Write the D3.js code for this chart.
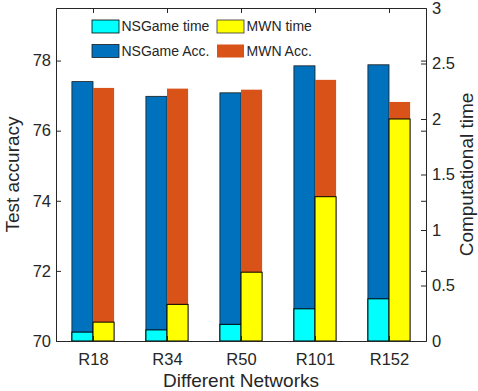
<!DOCTYPE html>
<html>
<head>
<meta charset="utf-8">
<script src="https://cdn.jsdelivr.net/npm/d3@7"></script>
<style>
  body { margin: 0; background: #fff; }
  svg text { font-family: "Liberation Sans", Arial, sans-serif; fill: #262626; }
</style>
</head>
<body>
<div id="chart"></div>
<script>
// data
const networks = ["R18", "R34", "R50", "R101", "R152"];
const nsgameAcc = [77.40, 76.98, 77.08, 77.85, 77.88];
const mwnAcc = [77.22, 77.20, 77.17, 77.45, 76.82];
const nsgameTime = [0.08, 0.10, 0.15, 0.29, 0.38];
const mwnTime = [0.17, 0.33, 0.62, 1.30, 2.00];
const accTicks = [70, 72, 74, 76, 78];
const timeTicks = [0, 0.5, 1, 1.5, 2, 2.5, 3];

const W = 478, H = 391;
const margin = { left: 56, right: 52, top: 8, bottom: 50 };
const plotW = W - margin.left - margin.right;
const plotH = H - margin.top - margin.bottom;

const colors = { nsAcc: "#0072BD", mwnAcc: "#D95319", nsTime: "#00FFFF", mwnTime: "#FFFF00" };
const axisColor = "#262626";

const svg = d3.select("#chart").append("svg")
  .attr("width", W).attr("height", H);

const g = svg.append("g").attr("transform", `translate(${margin.left},${margin.top})`);

// scales
const x = d3.scaleLinear().domain([0.5, networks.length + 0.5]).range([0, plotW]);
const yAcc = d3.scaleLinear().domain([70, 79.5]).range([plotH, 0]);
const yTime = d3.scaleLinear().domain([0, 3]).range([plotH, 0]);
const barW = x(1.285) - x(1);

// accuracy bars (left axis)
g.selectAll(".ns-acc").data(nsgameAcc).enter().append("rect")
  .attr("class", "ns-acc")
  .attr("x", (d, i) => x(i + 1) - barW)
  .attr("y", d => yAcc(d))
  .attr("width", barW)
  .attr("height", d => yAcc(70) - yAcc(d))
  .attr("fill", colors.nsAcc)
  .attr("stroke", "#1a1a1a").attr("stroke-width", 0.8);

g.selectAll(".mwn-acc").data(mwnAcc).enter().append("rect")
  .attr("class", "mwn-acc")
  .attr("x", (d, i) => x(i + 1))
  .attr("y", d => yAcc(d))
  .attr("width", barW)
  .attr("height", d => yAcc(70) - yAcc(d))
  .attr("fill", colors.mwnAcc);

// time bars (right axis) on top
g.selectAll(".ns-time").data(nsgameTime).enter().append("rect")
  .attr("class", "ns-time")
  .attr("x", (d, i) => x(i + 1) - barW)
  .attr("y", d => yTime(d))
  .attr("width", barW)
  .attr("height", d => yTime(0) - yTime(d))
  .attr("fill", colors.nsTime)
  .attr("stroke", "#000").attr("stroke-width", 1);

g.selectAll(".mwn-time").data(mwnTime).enter().append("rect")
  .attr("class", "mwn-time")
  .attr("x", (d, i) => x(i + 1))
  .attr("y", d => yTime(d))
  .attr("width", barW)
  .attr("height", d => yTime(0) - yTime(d))
  .attr("fill", colors.mwnTime)
  .attr("stroke", "#000").attr("stroke-width", 1);

// axes
const tickFont = "16.5px";
const styleAxis = sel => {
  sel.select(".domain").attr("stroke", axisColor);
  sel.selectAll(".tick line").attr("stroke", axisColor);
  sel.selectAll(".tick text").style("font-size", tickFont).attr("fill", axisColor);
};

g.append("g")
  .attr("transform", `translate(0,${plotH})`)
  .call(d3.axisBottom(x).tickValues(d3.range(1, networks.length + 1))
    .tickFormat(d => networks[d - 1]).tickSizeInner(-5).tickSizeOuter(0).tickPadding(12))
  .call(styleAxis);

g.append("g")
  .call(d3.axisTop(x).tickValues(d3.range(1, networks.length + 1))
    .tickFormat("").tickSizeInner(-5).tickSizeOuter(0))
  .call(styleAxis);

g.append("g")
  .call(d3.axisLeft(yAcc).tickValues(accTicks).tickSizeInner(-5).tickSizeOuter(0).tickPadding(5))
  .call(styleAxis);

// left ticks mirrored on the right side
g.append("g")
  .attr("transform", `translate(${plotW},0)`)
  .call(d3.axisRight(yAcc).tickValues(accTicks).tickFormat("").tickSizeInner(-5).tickSizeOuter(0))
  .call(styleAxis);

g.append("g")
  .attr("transform", `translate(${plotW},0)`)
  .call(d3.axisRight(yTime).tickValues(timeTicks).tickFormat(d3.format("~g"))
    .tickSizeInner(-5).tickSizeOuter(0).tickPadding(6))
  .call(styleAxis);

// axis titles
g.append("text")
  .attr("x", plotW / 2).attr("y", plotH + 46)
  .attr("text-anchor", "middle").style("font-size", "19px")
  .text("Different Networks");

g.append("text")
  .attr("transform", `translate(${-37},${plotH / 2}) rotate(-90)`)
  .attr("text-anchor", "middle").style("font-size", "19px")
  .text("Test accuracy");

g.append("text")
  .attr("transform", `translate(${plotW + 47},${plotH / 2}) rotate(-90)`)
  .attr("text-anchor", "middle").style("font-size", "19px")
  .text("Computational time");

// legend
const legendItems = [
  { label: "NSGame time", color: colors.nsTime, stroke: "#000", col: 0, row: 0 },
  { label: "MWN time", color: colors.mwnTime, stroke: "#333", col: 1, row: 0 },
  { label: "NSGame Acc.", color: colors.nsAcc, stroke: "#1a1a1a", col: 0, row: 1 },
  { label: "MWN Acc.", color: colors.mwnAcc, stroke: "none", col: 1, row: 1 }
];
const legend = svg.append("g").attr("transform", "translate(92,20)");
const item = legend.selectAll(".item").data(legendItems).enter().append("g")
  .attr("transform", d => `translate(${d.col * 125},${d.row * 24.5})`);
item.append("rect")
  .attr("width", 27).attr("height", 13)
  .attr("fill", d => d.color)
  .attr("stroke", d => d.stroke).attr("stroke-width", 0.8);
item.append("text")
  .attr("x", 29.5).attr("y", 6.5).attr("dy", "0.35em")
  .style("font-size", "14px")
  .text(d => d.label);
</script>
</body>
</html>
